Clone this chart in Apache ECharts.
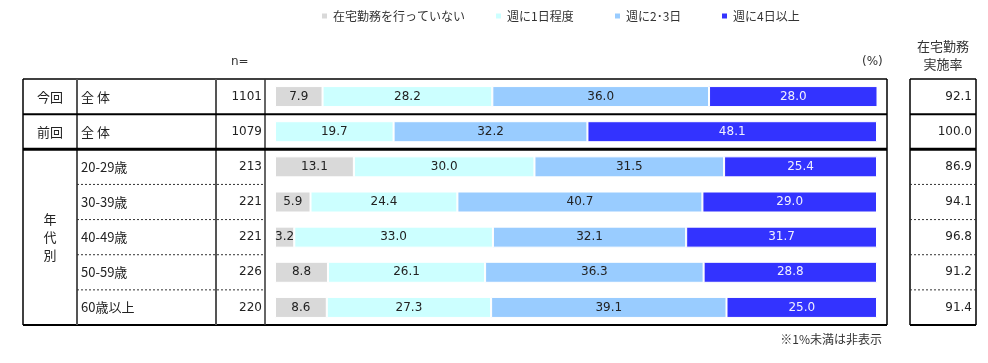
<!DOCTYPE html>
<html><head><meta charset="utf-8">
<script src="https://cdn.jsdelivr.net/npm/echarts@6/dist/echarts.min.js"></script>
<style>html,body{margin:0;padding:0;background:#fff}#c{width:988px;height:363px}</style>
</head><body><div id="c"></div>
<script>
const categories = ['全 体','全 体','20-29歳','30-39歳','40-49歳','50-59歳','60歳以上'];
const groupLabels = ['今回','前回','','','年\n代\n別','',''];
const nValues = ['1101','1079','213','221','221','226','220'];
const rateValues = ['92.1','100.0','86.9','94.1','96.8','91.2','91.4'];
const seriesNames = ['在宅勤務を行っていない','週に1日程度','週に2･3日','週に4日以上'];
const noneVals = [7.9, null, 13.1, 5.9, 3.2, 8.8, 8.6];
const onceVals = [28.2, 19.7, 30.0, 24.4, 33.0, 26.1, 27.3];
const twoThreeVals = [36.0, 32.2, 31.5, 40.7, 32.1, 36.3, 39.1];
const fourPlusVals = [28.0, 48.1, 25.4, 29.0, 31.7, 28.8, 25.0];

const colors = ['#D9D9D9','#CCFFFF','#99CCFF','#3333FF'];
const labelColors = ['#222','#222','#222','#f0f0ff'];
const FONT = '"DejaVu Sans","Noto Sans CJK JP",sans-serif';
const JFONT = '"Noto Sans CJK JP","DejaVu Sans",sans-serif';

const GL = 275, GR = 877, GT = 79, GH = 246;
const chart = echarts.init(document.getElementById('c'), null, {renderer:'canvas'});

function mkSeries(name, data, i) {
  return {
    name, type:'bar', stack:'t', data, barWidth:21,
    itemStyle:{color:colors[i], borderColor:'#fff', borderWidth:1},
    label:{show:true, position:'inside', color:labelColors[i], fontFamily:FONT, fontSize:12,
      formatter:p => (p.value==null||p.value<1) ? '' : p.value.toFixed(1)},
    emphasis:{disabled:true}, animation:false
  };
}
const baseY = {type:'category', inverse:true, gridIndex:0, axisLine:{show:false}, axisTick:{show:false}, splitLine:{show:false}};

const legends = seriesNames.map((n,i)=>({
  data:[n], left:[315,489,608,715][i], top:5, icon:'rect', itemWidth:7, itemHeight:7, itemGap:4,
  textStyle:{fontFamily:JFONT, fontSize:12, color:'#333', padding:[0,0,0,0]}, selectedMode:false
}));

const band = GH/7;
const yb = k => GT + band*k;
const g = [];
const black = '#000';
function hline(x1,x2,y,w,dash,color){g.push({type:'line',shape:{x1,y1:y,x2,y2:y},style:{stroke:color||black,lineWidth:w,lineDash:dash||null},silent:true});}
function vline(x,y1,y2,w,color){g.push({type:'line',shape:{x1:x,y1,x2:x,y2},style:{stroke:color||black,lineWidth:w},silent:true});}
hline(23,887,yb(0),1.5); hline(23,887,yb(7),2);
vline(23,yb(0),yb(7),1.5); vline(887,yb(0),yb(7),1.5);
vline(77,yb(0),yb(7),2,'#555'); vline(216,yb(0),yb(7),2,'#555'); vline(265,yb(0),yb(7),1.5,'#333');
hline(23,887,yb(1),2); hline(23,887,yb(2),3);
for (let k=3;k<7;k++){ hline(77,265,yb(k),1,[2,2],'#333'); }
hline(910,976,yb(0),1.5); hline(910,976,yb(7),2);
vline(910,yb(0),yb(7),1.5); vline(976,yb(0),yb(7),1.5);
hline(910,976,yb(1),2); hline(910,976,yb(2),3);
for (let k=3;k<7;k++){ hline(910,976,yb(k),1,[2,2],'#333'); }
g.push({type:'text',x:231,y:56,style:{text:'n=',font:'12px '+FONT,fill:'#333'}});
g.push({type:'text',x:862,y:56,style:{text:'(%)',font:'12px '+FONT,fill:'#333'}});
g.push({type:'text',x:943,y:37,style:{text:'在宅勤務\n実施率',font:'13px '+JFONT,fill:'#333',align:'center',lineHeight:18}});
g.push({type:'text',x:882,y:333,style:{text:'※1%未満は非表示',font:'12px '+JFONT,fill:'#333',align:'right'}});

chart.setOption({
  backgroundColor:'#fff',
  animation:false,
  legend:legends,
  grid:{left:GL, right:988-GR, top:GT, height:GH, containLabel:false},
  xAxis:{type:'value', min:0, max:100, show:false},
  yAxis:[
    Object.assign({}, baseY, {data:categories, position:'left', axisLabel:{interval:0, align:'left', margin:GL-81, fontFamily:JFONT, fontSize:13, color:'#222'}}),
    Object.assign({}, baseY, {data:nValues, position:'left', axisLabel:{interval:0, align:'right', margin:GL-262, fontFamily:FONT, fontSize:12, color:'#222'}}),
    Object.assign({}, baseY, {data:groupLabels, position:'left', axisLabel:{interval:0, align:'center', margin:GL-50, fontFamily:JFONT, fontSize:13, color:'#222', lineHeight:18}}),
    Object.assign({}, baseY, {data:rateValues, position:'right', axisLabel:{interval:0, align:'right', margin:972-GR, fontFamily:FONT, fontSize:12, color:'#222'}})
  ],
  series:[mkSeries(seriesNames[0],noneVals,0), mkSeries(seriesNames[1],onceVals,1), mkSeries(seriesNames[2],twoThreeVals,2), mkSeries(seriesNames[3],fourPlusVals,3)],
  graphic:g
});
</script></body></html>
